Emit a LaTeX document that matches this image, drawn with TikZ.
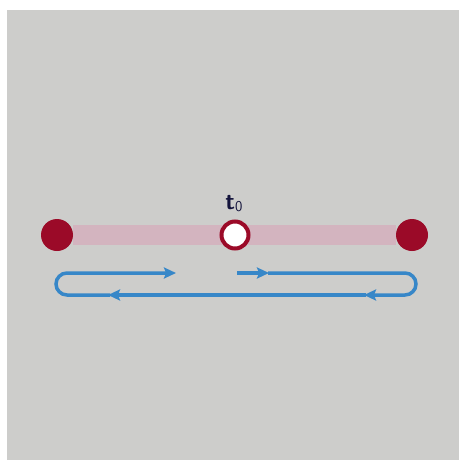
\documentclass[tikz,border=0pt]{standalone}
\usetikzlibrary{arrows.meta, backgrounds}
\definecolor{latar}{RGB}{205,205,203}
\definecolor{merahtua}{RGB}{155,10,40}
\definecolor{merahmuda}{RGB}{211,180,191}
\definecolor{birualur}{RGB}{55,135,200}
\definecolor{birutinta}{RGB}{20,20,60}

\begin{document}
\begin{tikzpicture}[x=1pt, y=-1pt,
        every node/.style={font=\sffamily},
        titik/.style={circle, fill=merahtua, minimum size=32pt, inner sep=0pt},
        lubang/.style={circle, draw=merahtua, line width=4pt, fill=white,
                       minimum size=27pt, inner sep=0pt},
        batang/.style={merahmuda, line width=20pt},
        alur/.style={birualur, line width=3.5pt,
                     -{Stealth[length=12pt,width=11pt,inset=2pt]}}
    ]
        \useasboundingbox (0,0) rectangle (459,460);
        % titik-titik pada garis
        \node[titik]  (kiri)  at (57,235)  {};
        \node[titik]  (kanan) at (412,235) {};
        \node[lubang] (tengah) at (235,235) {};
        \node[birutinta, font=\sffamily\bfseries\fontsize{24}{24}\selectfont] (label) at (234,204)
            {t\raisebox{-2pt}{\mdseries\fontsize{15}{15}\selectfont 0}};
        \begin{scope}[on background layer]
            \fill[latar] (7,10) rectangle (459,460);
            \draw[batang] (kiri) -- (kanan);
        \end{scope}
        % lintasan biru
        \coordinate (a0) at (237,273);
        \coordinate (a1) at (269,273);
        \coordinate (b0) at (268,273);
        \coordinate (b1) at (405,273);
        \coordinate (b2) at (364,295);
        \coordinate (c0) at (366,295);
        \coordinate (c1) at (108,295);
        \coordinate (d0) at (110,295);
        \coordinate (d1) at (67,295);
        \coordinate (d2) at (176,273);
        \draw[alur] (a0) -- (a1);
        \draw[alur] (b0) -- (b1) arc[start angle=-90, end angle=90, radius=11] -- (b2);
        \draw[alur] (c0) -- (c1);
        \draw[alur] (d0) -- (d1) arc[start angle=90, end angle=270, radius=11] -- (d2);
    \end{tikzpicture}
\end{document}
